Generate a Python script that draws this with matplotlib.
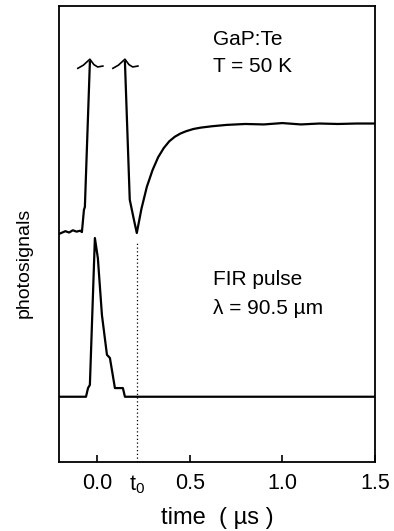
import numpy as np
import matplotlib.pyplot as plt

plt.rcParams['font.family'] = ['Liberation Sans', 'DejaVu Sans']

# photosignal GaP:Te (upper trace); goes off-scale between the two spikes
t_rise = [-0.204, -0.17, -0.15, -0.13, -0.11, -0.09, -0.081, -0.070, -0.065, -0.038]
s_rise = [5.00, 5.06, 5.03, 5.08, 5.05, 5.07, 5.04, 5.53, 5.59, 8.77]
t_fall = [0.151, 0.177, 0.200, 0.215, 0.240, 0.269, 0.300, 0.330, 0.360, 0.390, 0.420,
          0.450, 0.480, 0.520, 0.560, 0.620, 0.700, 0.80, 0.90, 1.00, 1.10, 1.20, 1.30, 1.40, 1.5]
s_fall = [8.77, 5.75, 5.30, 5.02, 5.55, 6.03, 6.40, 6.68, 6.88, 7.03, 7.13,
          7.20, 7.25, 7.30, 7.33, 7.36, 7.39, 7.41, 7.40, 7.43, 7.40, 7.42, 7.41, 7.42, 7.42]

# FIR pulse (lower trace)
t_fir = [-0.204, -0.059, -0.048, -0.038, -0.011, 0.005, 0.027, 0.054, 0.070, 0.097,
         0.140, 0.151, 1.5]
s_fir = [1.43, 1.43, 1.62, 1.69, 4.91, 4.47, 3.22, 2.35, 2.28, 1.62,
         1.62, 1.43, 1.43]

t0 = 0.215
xticks = [0.0, t0, 0.5, 1.0, 1.5]
xticklabels = ['0.0', '$\\mathregular{t_0}$', '0.5', '1.0', '1.5']

fig = plt.figure(figsize=(3.94, 5.31), dpi=100)
ax = fig.add_axes([0.150, 0.130, 0.802, 0.859])

ax.plot(t_rise, s_rise, color='black', lw=1.6)
ax.plot(t_fall, s_fall, color='black', lw=1.6)
ax.plot(t_fir, s_fir, color='black', lw=1.6)

# arrow heads marking off-scale spikes
for tp, sp in [(t_rise[-1], s_rise[-1]), (t_fall[0], s_fall[0])]:
    dx = np.array([-0.065, -0.035, 0.0, 0.022, 0.042, 0.07])
    dy = np.array([-0.14, -0.07, 0.06, -0.06, -0.11, -0.09])
    ax.plot(tp + dx, sp + dy, color='black', lw=1.2)

ax.plot([t0, t0], [0, 4.85], color='black', lw=0.9, ls=(0, (1, 2)))

ax.text(0.624, 9.27, 'GaP:Te', fontsize=15, va='center')
ax.text(0.624, 8.66, 'T = 50 K', fontsize=15, va='center')
ax.text(0.624, 3.99, 'FIR pulse', fontsize=15, va='center')
ax.text(0.624, 3.36, 'λ = 90.5 µm', fontsize=15, va='center')

ax.set_xlim(-0.204, 1.5)
ax.set_ylim(0, 10)
ax.set_xticks(xticks)
ax.set_xticklabels(xticklabels, fontsize=15.5)
ax.tick_params(axis='x', direction='in', length=5, width=1.2, pad=8)
ax.xaxis.get_major_ticks()[1].tick1line.set_visible(False)
ax.set_yticks([])
ax.set_xlabel('time  ( µs )', fontsize=17, labelpad=8)
ax.set_ylabel('photosignals', fontsize=14)
ax.yaxis.set_label_coords(-0.085, 0.436)
for sp in ax.spines.values():
    sp.set_linewidth(1.3)

fig.savefig('out.png', dpi=100)
